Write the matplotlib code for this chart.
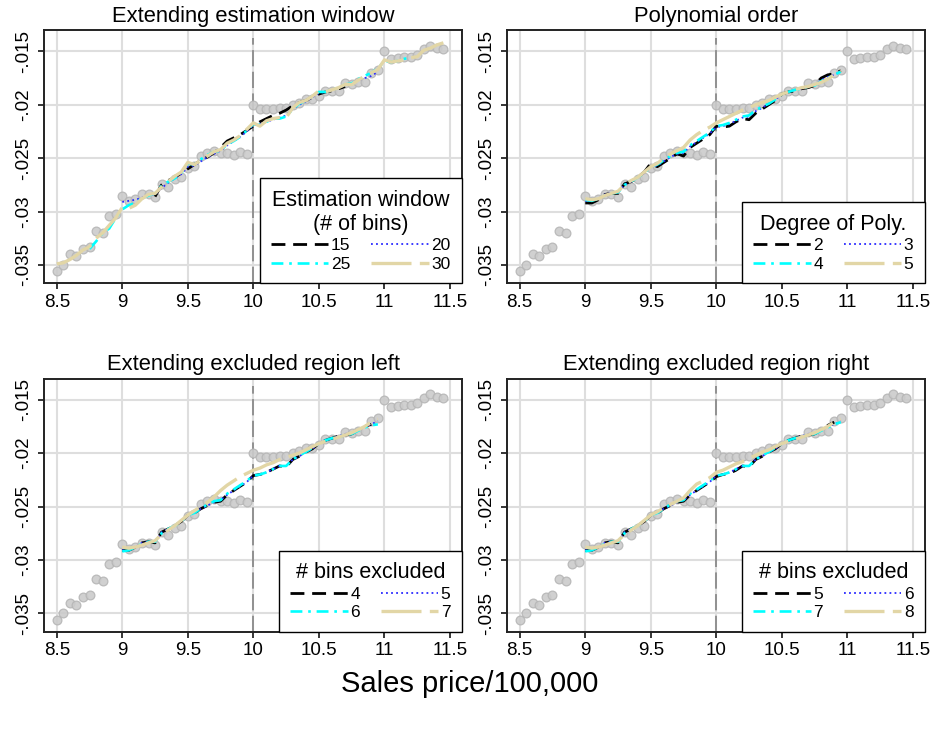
import numpy as np
import matplotlib.pyplot as plt

plt.rcParams['font.family'] = ['Liberation Sans', 'DejaVu Sans']

# bin centres (sales price / 100,000)
bins = np.round(np.arange(8.5, 11.46, 0.05), 2)

# all y values below in units of 0.001
share = [-35.6, -35.0, -34.0, -34.2, -33.5, -33.3, -31.8, -32.0, -30.4, -30.2,
         -28.5, -29.0, -28.8, -28.4, -28.4, -28.6, -27.4, -27.7, -27.0, -26.8,
         -25.9, -25.7, -24.8, -24.5, -24.3, -24.5, -24.5, -24.7, -24.4, -24.6,
         -20.0, -20.4, -20.4, -20.4, -20.3, -20.3, -20.0, -19.8, -19.5, -19.5,
         -19.2, -18.7, -18.7, -18.7, -18.0, -18.1, -17.9, -17.9, -17.0, -16.7,
         -15.0, -15.7, -15.6, -15.5, -15.5, -15.3, -14.8, -14.5, -14.7, -14.8]

# --- panel 1: estimation window (# of bins)
win15_start = 9.25
win15 = [-28.6, -27.5, -27.1, -26.8, -26.4, -26.0, -25.6, -25.2, -24.9, -24.5,
         -24.0, -23.4, -23.1, -22.8, -22.4, -22.0, -21.6, -21.3, -21.0, -20.8,
         -20.5, -20.1, -19.8, -19.6, -19.3, -19.0, -18.8, -18.7, -18.5, -18.3]
win20_start = 9.0
win20 = [-29.1, -29.0, -28.9, -28.7, -28.5, -28.4, -27.8, -27.3, -26.9, -26.5,
         -25.8, -25.7, -25.3, -24.9, -24.6, -24.3, -23.8, -23.4, -23.0, -22.5,
         -21.9, -21.8, -21.6, -21.4, -21.2, -21.0, -20.4, -20.0, -19.7, -19.3,
         -18.9, -18.8, -18.6, -18.4, -18.2, -18.0, -17.7, -17.5, -17.3, -16.9]
win25_start = 8.75
win25 = [-33.5, -32.8, -32.0, -31.6, -30.6, -29.8, -29.4, -29.2, -28.8, -28.5,
         -28.3, -27.6, -27.2, -26.9, -26.4, -25.5, -25.6, -25.1, -24.7, -24.4,
         -24.3, -23.7, -23.4, -23.0, -22.4,
         -21.8, -21.9, -21.6, -21.3, -21.3, -21.1, -20.4, -19.9, -19.6, -19.2,
         -18.8, -18.8, -18.6, -18.4, -18.1, -18.0, -17.6, -17.3, -17.0, -16.6,
         -15.9, -16.0, -15.9, -15.7, -15.6]
win30_start = 8.5
win30 = [-34.9, -34.8, -34.5, -34.1, -33.6, -33.3, -32.5, -32.0, -31.3, -30.6,
         -29.6, -29.7, -29.4, -28.8, -28.4, -28.3, -27.7, -27.2, -26.7, -26.3,
         -25.4, -25.6, -25.2, -24.8, -24.4, -24.2, -23.6, -23.3, -22.9, -22.3,
         -21.7, -22.0, -21.5, -21.3, -21.2, -21.2, -20.3, -19.8, -19.6, -19.2,
         -18.7, -18.8, -18.6, -18.4, -18.1, -18.1, -17.7, -17.3, -17.0, -16.7,
         -15.8, -16.0, -15.9, -15.8, -15.6, -15.5, -14.9, -14.7, -14.4, -14.2]

# --- panel 2: polynomial order (all fits from 9.0)
poly_start = 9.0
poly2 = [-29.2, -29.2, -28.9, -28.4, -28.3, -28.3, -27.4, -27.2, -26.8, -26.3,
         -25.5, -25.8, -25.4, -25.0, -24.6, -24.8, -24.0, -23.6, -23.2, -22.8,
         -22.0, -22.1, -22.0, -21.6, -21.3, -21.4, -20.8, -20.4, -20.0, -19.6,
         -19.0, -18.8, -18.7, -18.5, -18.4, -18.2, -17.5, -17.2, -17.1, -16.8]
poly3 = [-29.0, -29.0, -28.8, -28.4, -28.2, -28.2, -27.5, -27.2, -26.8, -26.4,
         -25.8, -25.7, -25.3, -24.9, -24.6, -24.5, -23.9, -23.5, -23.1, -22.7,
         -22.1, -22.0, -21.8, -21.5, -21.2, -21.1, -20.6, -20.3, -19.9, -19.5,
         -19.0, -18.8, -18.6, -18.5, -18.3, -18.1, -17.7, -17.4, -17.2, -16.9]
poly4 = [-28.9, -29.0, -28.8, -28.5, -28.3, -28.2, -27.5, -27.2, -26.8, -26.4,
         -25.8, -25.6, -25.2, -24.8, -24.5, -24.4, -23.8, -23.4, -23.0, -22.6,
         -22.0, -21.9, -21.7, -21.4, -21.1, -21.0, -20.5, -20.2, -19.9, -19.5,
         -19.0, -18.8, -18.6, -18.5, -18.3, -18.2, -17.8, -17.5, -17.2, -16.9]
poly5 = [-28.8, -28.9, -28.8, -28.5, -28.3, -28.1, -27.5, -27.1, -26.8, -26.3,
         -25.8, -25.5, -25.0, -24.6, -24.3, -24.0, -23.3, -22.8, -22.4, -22.1,
         -21.7, -21.4, -21.1, -20.8, -20.5, -20.3, -20.0, -19.8, -19.6, -19.3,
         -19.0, -18.8, -18.6, -18.4, -18.3, -18.1, -17.9, -17.6, -17.2, -16.8]

# --- panel 3: bins excluded to the left
left_start = 9.0
left4 = [-29.1, -29.1, -28.8, -28.4, -28.3, -28.4, -27.4, -27.1, -26.8, -26.4,
         -25.8, -25.6, -25.2, -24.9, -24.6, -24.5, -23.9, -23.5, -23.1, -22.7,
         -22.1, -22.0, -21.8, -21.5, -21.2, -21.3, -20.6, -20.3, -19.9, -19.6,
         -19.1, -18.8, -18.6, -18.4, -18.3, -18.2, -17.8, -17.5, -17.3]
left5 = [-29.1, -29.1, -28.8, -28.4, -28.3, -28.3, -27.4, -27.1, -26.8, -26.4,
         -25.8, -25.6, -25.2, -24.9, -24.6, -24.4, -23.9, -23.5, -23.1, -22.7,
         -22.1, -22.0, -21.8, -21.5, -21.2, -21.2, -20.6, -20.3, -19.9, -19.6,
         -19.1, -18.8, -18.6, -18.4, -18.2, -18.1, -17.8, -17.5, -17.3, -17.0]
left6 = [-29.2, -29.1, -28.8, -28.5, -28.3, -28.3, -27.5, -27.1, -26.8, -26.4,
         -25.8, -25.6, -25.2, -24.8, -24.5, -24.4, -23.8, -23.4, -23.0, -22.6,
         -22.1, -22.0, -21.8, -21.5, -21.2, -21.2, -20.6, -20.2, -19.9, -19.5,
         -19.1, -18.8, -18.6, -18.5, -18.3, -18.2, -17.9, -17.6, -17.4, -17.3]
left7 = [-28.8, -28.9, -28.8, -28.6, -28.4, -28.2, -27.6, -27.2, -26.8, -26.3,
         -25.8, -25.4, -25.0, -24.6, -24.1, -23.5, -23.0, -22.6, -22.2, -21.9,
         -21.6, -21.4, -21.1, -20.9, -20.6, -20.4, -20.2, -20.0, -19.7, -19.4,
         -19.1, -18.9, -18.7, -18.5, -18.3, -18.1, -17.8, -17.5, -17.1, -16.8]

# --- panel 4: bins excluded to the right
right_start = 9.0
right5 = [-29.1, -29.1, -28.8, -28.4, -28.3, -28.4, -27.4, -27.1, -26.8, -26.4,
          -25.8, -25.6, -25.2, -24.9, -24.6, -24.5, -23.9, -23.5, -23.1, -22.7,
          -22.2, -22.0, -21.9, -21.6, -21.2, -21.3, -20.6, -20.3, -19.9, -19.6,
          -19.1, -18.8, -18.6, -18.4, -18.3, -18.2, -17.8, -17.4, -17.1]
right6 = [-29.1, -29.1, -28.8, -28.4, -28.3, -28.3, -27.4, -27.1, -26.8, -26.4,
          -25.8, -25.6, -25.2, -24.9, -24.6, -24.4, -23.9, -23.5, -23.1, -22.7,
          -22.1, -22.0, -21.8, -21.5, -21.2, -21.2, -20.6, -20.3, -19.9, -19.6,
          -19.1, -18.8, -18.6, -18.4, -18.2, -18.1, -17.8, -17.5, -17.3, -17.0]
right7 = [-29.2, -29.1, -28.8, -28.5, -28.3, -28.3, -27.5, -27.1, -26.8, -26.4,
          -25.8, -25.6, -25.2, -24.8, -24.5, -24.4, -23.8, -23.4, -23.0, -22.6,
          -22.1, -22.0, -21.8, -21.5, -21.2, -21.2, -20.6, -20.2, -19.9, -19.5,
          -19.1, -18.8, -18.6, -18.5, -18.3, -18.2, -17.9, -17.6, -17.3, -17.1]
right8 = [-28.8, -28.9, -28.8, -28.6, -28.4, -28.2, -27.6, -27.2, -26.8, -26.3,
          -25.8, -25.5, -25.1, -24.8, -24.5, -24.2, -23.5, -22.9, -22.6, -22.3,
          -21.8, -21.6, -21.3, -21.0, -20.8, -20.5, -20.2, -19.9, -19.7, -19.4,
          -19.1, -18.9, -18.7, -18.5, -18.3, -18.1, -17.8, -17.5, -17.1, -16.8]

titles = ['Extending estimation window', 'Polynomial order',
          'Extending excluded region left', 'Extending excluded region right']
legend_titles = ['Estimation window\n(# of bins)', 'Degree of Poly.',
                 '# bins excluded', '# bins excluded']
panel_labels = [['15', '20', '25', '30'], ['2', '3', '4', '5'],
                ['4', '5', '6', '7'], ['5', '6', '7', '8']]
panel_series = [
    [(win15_start, win15), (win20_start, win20), (win25_start, win25), (win30_start, win30)],
    [(poly_start, poly2), (poly_start, poly3), (poly_start, poly4), (poly_start, poly5)],
    [(left_start, left4), (left_start, left5), (left_start, left6), (left_start, left7)],
    [(right_start, right5), (right_start, right6), (right_start, right7), (right_start, right8)],
]

xticks = [8.5, 9, 9.5, 10, 10.5, 11, 11.5]
xticklabels = ['8.5', '9', '9.5', '10', '10.5', '11', '11.5']
yticks = [-0.035, -0.03, -0.025, -0.02, -0.015]
yticklabels = ['-.035', '-.03', '-.025', '-.02', '-.015']
cutoff = 10

line_styles = [
    dict(color='black', lw=2.0, dashes=(5, 2.8)),
    dict(color='#2a2aff', lw=1.3, dashes=(1, 1.8)),
    dict(color='#00ffff', lw=1.9, dashes=(4.5, 2.2, 1, 2.2)),
    dict(color='#e2d6a6', lw=2.4, dashes=(12, 2.5)),
]

positions = [[0.0475, 0.6114, 0.4474, 0.347], [0.5437, 0.6114, 0.4474, 0.347],
             [0.0475, 0.1335, 0.4474, 0.347], [0.5437, 0.1335, 0.4474, 0.347]]

fig = plt.figure(figsize=(9.33, 7.29), dpi=100)

for k in range(4):
    ax = fig.add_axes(positions[k])
    ax.set_xlim(8.405, 11.59)
    ax.set_ylim(-0.03672, -0.01303)
    ax.set_xticks(xticks)
    ax.set_xticklabels(xticklabels)
    ax.set_yticks(yticks)
    ax.set_yticklabels(yticklabels, rotation=90, va='center')
    ax.tick_params(labelsize=13.5, length=4.5, width=1.1, direction='out')
    ax.tick_params(axis='y', pad=4.5)
    ax.tick_params(axis='x', pad=3)
    ax.grid(True, color='#dedede', lw=1.5)
    ax.set_axisbelow(True)
    for sp in ax.spines.values():
        sp.set_color('#222222')
        sp.set_linewidth(1.4)

    ax.axvline(cutoff, ymin=0, ymax=0.97, color='#8a8a8a', lw=1.3, dashes=(9, 3), zorder=1.5)
    ax.plot(bins, np.array(share) / 1000, 'o', ms=6.3, mfc='#cbcbcb', mec='#b6b6b6',
            mew=0.9, alpha=0.9, zorder=2)

    handles = []
    for (x0, vals), st in zip(panel_series[k], line_styles):
        i0 = int(np.argmin(np.abs(bins - x0)))
        xs = bins[i0:i0 + len(vals)]
        h, = ax.plot(xs, np.array(vals) / 1000, zorder=3, **st)
        handles.append(h)

    ax.set_title(titles[k], fontsize=15.8, pad=6)

    labs = panel_labels[k]
    order = [0, 2, 1, 3]  # fill rows: (a b) / (c d)
    leg = ax.legend([handles[i] for i in order], [labs[i] for i in order],
                    title=legend_titles[k], ncol=2, loc='lower right',
                    borderaxespad=0, fancybox=False, edgecolor='black', framealpha=1,
                    fontsize=12.5, title_fontsize=15.5, handlelength=3.3,
                    handletextpad=0.15, columnspacing=1.2, labelspacing=0.2,
                    borderpad=0.65)
    leg.get_frame().set_linewidth(1.0)
    leg.get_title().set_multialignment('center')
    leg.set_zorder(5)

fig.text(0.503, 0.062, 'Sales price/100,000', ha='center', va='center', fontsize=21)

fig.savefig('out.png', dpi=100)
